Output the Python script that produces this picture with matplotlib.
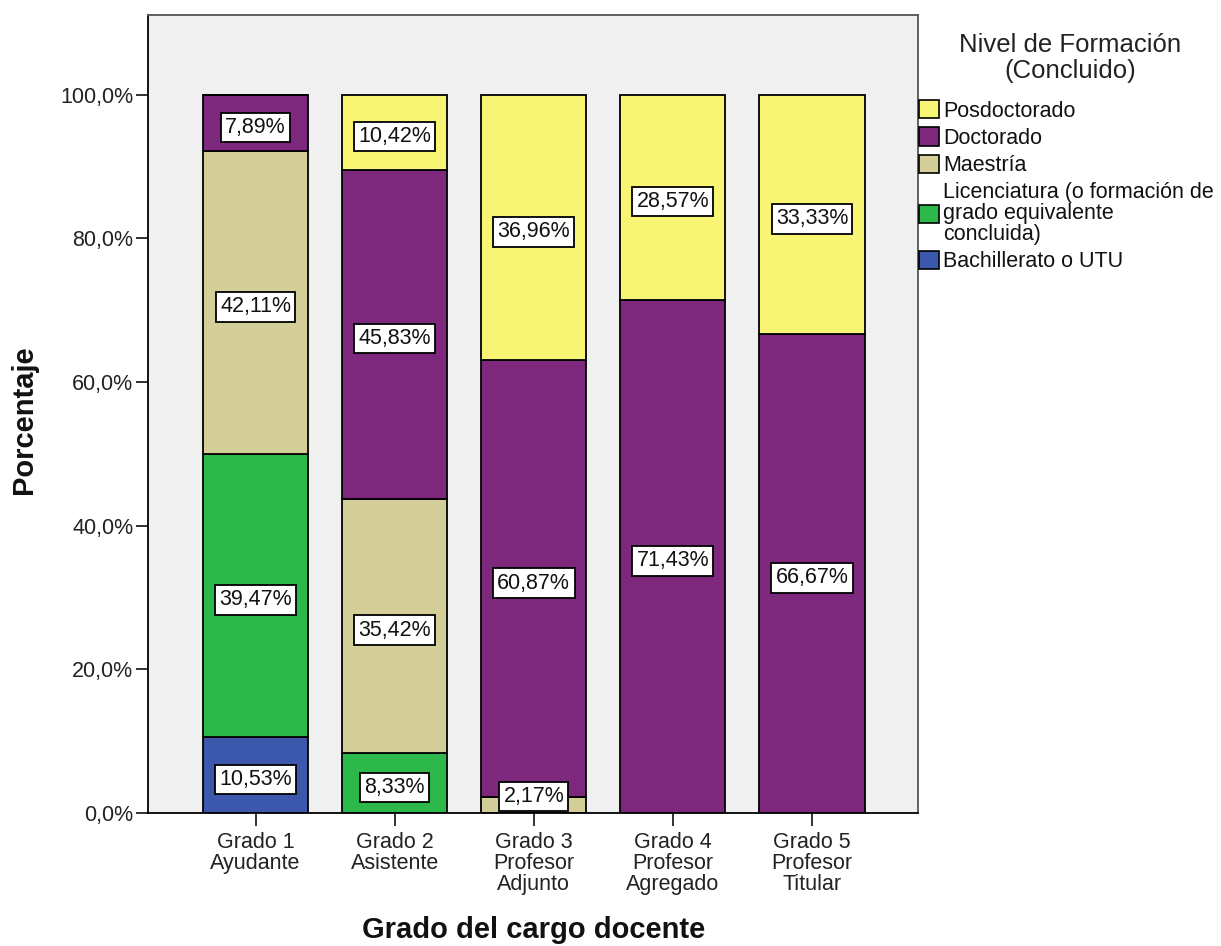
import matplotlib
matplotlib.use("Agg")
import matplotlib.pyplot as plt
import numpy as np
from matplotlib.patches import Patch
from matplotlib.ticker import FuncFormatter

plt.rcParams['font.family'] = ['Liberation Sans', 'DejaVu Sans']

categories = ["Grado 1\nAyudante", "Grado 2\nAsistente", "Grado 3\nProfesor\nAdjunto",
              "Grado 4\nProfesor\nAgregado", "Grado 5\nProfesor\nTitular"]

# Stacking order from bottom to top
levels = ["Bachillerato o UTU",
          "Licenciatura (o formación de\ngrado equivalente\nconcluida)",
          "Maestría", "Doctorado", "Posdoctorado"]
bachillerato = [10.53, 0.0, 0.0, 0.0, 0.0]
licenciatura = [39.47, 8.33, 0.0, 0.0, 0.0]
maestria = [42.11, 35.42, 2.17, 0.0, 0.0]
doctorado = [7.89, 45.83, 60.87, 71.43, 66.67]
posdoctorado = [0.0, 10.42, 36.96, 28.57, 33.33]
series = [bachillerato, licenciatura, maestria, doctorado, posdoctorado]
colors = ["#3C58AC", "#2DB84B", "#D4CF99", "#7D287D", "#F8F574"]

W, H = 1221, 946
fig = plt.figure(figsize=(W / 100, H / 100), dpi=100)
ax = fig.add_axes([148 / W, 1 - 813 / H, (918 - 148) / W, (813 - 15) / H])
ax.set_facecolor("#F0F0F0")

FS = 15.5
x = np.arange(len(categories))
width = 0.755
bottom = np.zeros(len(categories))
for vals, col in zip(series, colors):
    vals = np.array(vals)
    ax.bar(x, vals, width, bottom=bottom, color=col, edgecolor="black",
           linewidth=1.3, zorder=2)
    for xi, b, v in zip(x, bottom, vals):
        if v <= 0:
            continue
        yc = max(b + v / 2 - 0.6, 2.3)
        ax.text(xi, yc, f"{v:.2f}%".replace(".", ","), ha="center", va="center",
                fontsize=FS, color="#111111", zorder=4,
                bbox=dict(boxstyle="square,pad=0.2", facecolor="white",
                          edgecolor="black", linewidth=1.3))
    bottom += vals

ax.set_xlim(-0.773, 4.762)
ax.set_ylim(0, 111.1)
ax.set_yticks([0, 20, 40, 60, 80, 100])
ax.yaxis.set_major_formatter(FuncFormatter(lambda v, p: f"{v:.1f}%".replace(".", ",")))
ax.set_xticks(x)
ax.set_xticklabels(categories, linespacing=1.0)
ax.tick_params(axis="both", labelsize=FS, colors="#222222", length=9, width=1.3,
               direction="out")
ax.tick_params(axis="y", pad=1.5)
ax.tick_params(axis="x", pad=5)

for side in ["left", "bottom"]:
    ax.spines[side].set_color("black")
    ax.spines[side].set_linewidth(1.3)
for side in ["top", "right"]:
    ax.spines[side].set_color("#555555")
    ax.spines[side].set_linewidth(1.3)

fig.text(24 / W, 1 - 420 / H, "Porcentaje", rotation=90, ha="center", va="center",
         fontsize=21, fontweight="bold", color="#111111")
fig.text(534 / W, 1 - 930 / H, "Grado del cargo docente", ha="center", va="center",
         fontsize=21, fontweight="bold", color="#111111")

# Legend title drawn above the entries
fig.text(1070 / W, 1 - 58 / H, "Nivel de Formación\n(Concluido)", ha="center",
         va="center", fontsize=18.5, color="#222222", linespacing=1.15)

handles = [Patch(facecolor=c, edgecolor="black", linewidth=1.2, label=l)
           for c, l in zip(colors[::-1], levels[::-1])]
leg = fig.legend(handles=handles, loc="upper left",
                 bbox_to_anchor=(919 / W, 1 - 100 / H), bbox_transform=fig.transFigure,
                 frameon=False, fontsize=FS, handlelength=0.93, handleheight=0.93,
                 handletextpad=0.18, labelspacing=0.27, borderaxespad=0,
                 borderpad=0.0)
for t in leg.get_texts():
    t.set_color("#111111")
    t.set_linespacing(1.0)

fig.savefig("out.png", dpi=100, facecolor="white")
